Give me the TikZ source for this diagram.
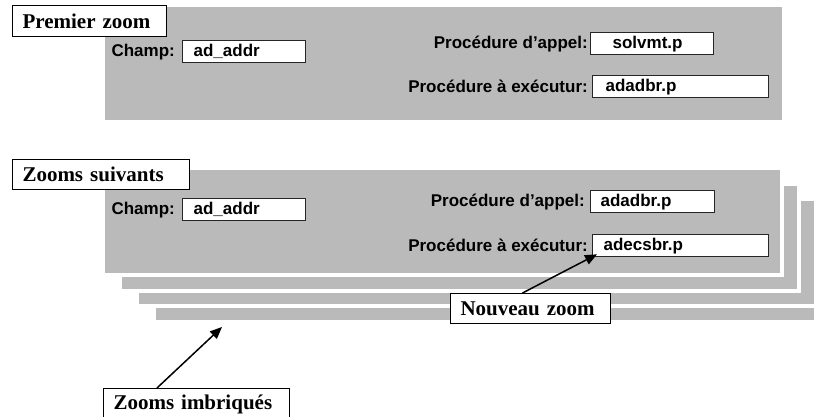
\documentclass[tikz,border=0pt]{standalone}
\usepackage{fontspec}
\setmainfont{Liberation Serif}
\setsansfont{Liberation Sans}
\usepackage{tikz}
\usetikzlibrary{positioning,arrows.meta}
\definecolor{zoomgray}{RGB}{186,186,186}
\tikzset{
  tagbox/.style={draw, fill=white, line width=1pt, anchor=north west,
                 inner xsep=10pt, inner ysep=0pt, minimum height=31pt,
                 align=left, font=\fontsize{21}{24}\selectfont\bfseries},
  fieldbox/.style={draw=black!85, fill=white, line width=1.3pt, anchor=north west,
                   inner xsep=11pt, inner ysep=0pt, minimum height=22pt,
                   align=left, font=\sffamily\bfseries\fontsize{17}{20}\selectfont},
  fieldlabel/.style={inner sep=0pt, font=\sffamily\bfseries\fontsize{17}{20}\selectfont},
  ptr/.style={-{Triangle[length=12pt,width=10pt]}, line width=1.5pt}
}

\begin{document}
\begin{tikzpicture}[x=1pt, y=-1pt]
  \useasboundingbox (0,0) rectangle (814,417);

  % Premier zoom
  \fill[zoomgray] (105,7) rectangle (782,120);
  \node[tagbox, text width=134pt] (premier) at (12,5) {Premier zoom};
  \node[fieldbox, text width=101pt] (champA) at (182,40) {ad\_addr};
  \node[fieldlabel, left=7pt of champA] (champAlbl) {Champ:};
  \node[fieldbox, text width=79pt, inner xsep=22pt] (appelA) at (590,32) {solvmt.p};
  \node[fieldlabel, left=2pt of appelA] (appelAlbl) {Procédure d’appel:};
  \node[fieldbox, text width=150pt, inner xsep=13pt] (execA) at (592,75) {adadbr.p};
  \node[fieldlabel, left=4pt of execA] (execAlbl) {Procédure à exécutur:};

  % Zooms suivants (piles de zooms, de l'arriere vers l'avant)
  \foreach \k in {3,2,1,0}{
    \fill[white] ({101+17*\k},{166+15.5*\k}) rectangle ({784+17*\k},{277+15.5*\k});
    \fill[zoomgray] ({105+17*\k},{170+15.5*\k}) rectangle ({780+17*\k},{273+15.5*\k});
  }
  \node[tagbox, text width=157pt, minimum height=30pt] (suivants) at (12,159) {Zooms suivants};
  \node[fieldbox, text width=101pt] (champB) at (182,198) {ad\_addr};
  \node[fieldlabel, left=7pt of champB] (champBlbl) {Champ:};
  \node[fieldbox, text width=104pt, inner xsep=10pt] (appelB) at (590,190) {adadbr.p};
  \node[fieldlabel, left=5pt of appelB] (appelBlbl) {Procédure d’appel:};
  \node[fieldbox, text width=154pt] (execB) at (592,234) {adecsbr.p};
  \node[fieldlabel, left=4pt of execB] (execBlbl) {Procédure à exécutur:};

  % Annotations
  \node[tagbox, text width=140pt, minimum height=30pt] (nouveau) at (450,293) {Nouveau zoom};
  \draw[ptr] ([xshift=-8pt]nouveau.north) -- ([shift={(5pt,3pt)}]execB.south west);

  \node[tagbox, text width=166pt, minimum height=31pt] (imbriques) at (103,388) {Zooms imbriqués};
  \coordinate (nestpt) at (222,327);
  \draw[ptr] ([xshift=54pt]imbriques.north west) -- (nestpt);
\end{tikzpicture}
\end{document}
